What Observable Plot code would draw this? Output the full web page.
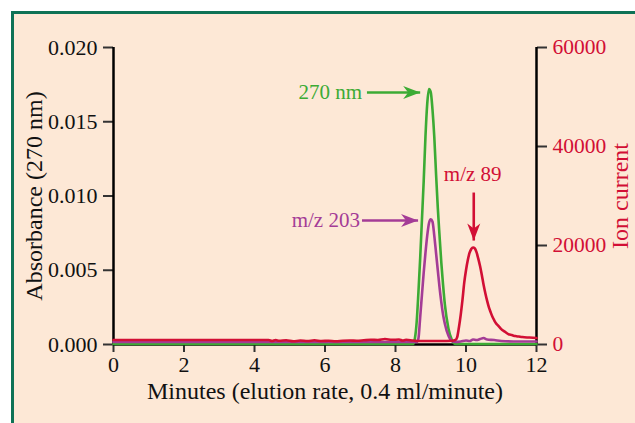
<!DOCTYPE html>
<html><head><meta charset="utf-8">
<script src="https://cdn.jsdelivr.net/npm/d3@7"></script>
<script src="https://cdn.jsdelivr.net/npm/@observablehq/plot@0.6"></script>
<style>
html,body{margin:0;padding:0;background:#fff;width:635px;height:423px;overflow:hidden}
#frame{position:absolute;left:11px;top:11px;width:700px;height:500px;background:#fde8d6;border-left:3px solid #0e7256;border-top:3px solid #0e7256}
#chart{position:absolute;left:0;top:0}
</style></head><body><div id="frame"></div><div id="chart"></div>
<script>
// ---- data ----
const xTicks = [0, 2, 4, 6, 8, 10, 12];
const absTicks = [0, 0.005, 0.010, 0.015, 0.020];
const ionTicks = [0, 20000, 40000, 60000];

// Absorbance at 270 nm (left axis)
const absTime = [0, 2, 4, 6, 8, 8.5, 8.55, 8.6, 8.65, 8.7, 8.75, 8.8, 8.85, 8.9, 8.95, 9.0, 9.05, 9.1, 9.15, 9.2, 9.25, 9.3, 9.35, 9.4, 9.5, 9.6, 9.7, 10, 11, 12];
const absValue = [0.00003, 0.00003, 0.00003, 0.00003, 0.00003, 0.00003, 0.0004, 0.0015, 0.0035, 0.0058, 0.0084, 0.0110, 0.0140, 0.0162, 0.0172, 0.0170, 0.0158, 0.0140, 0.0115, 0.0092, 0.0073, 0.0055, 0.0040, 0.0027, 0.0011, 0.0003, 0.00003, 0.00003, 0.00003, 0.00003];

// Ion current m/z 203 (right axis)
const mz203Time = [0, 2, 4, 6, 8, 8.6, 8.65, 8.7, 8.75, 8.8, 8.85, 8.9, 8.95, 9.0, 9.05, 9.1, 9.15, 9.2, 9.25, 9.3, 9.35, 9.4, 9.5, 9.6, 9.7, 9.85, 10.0, 10.1, 10.2, 10.3, 10.4, 10.5, 10.6, 10.8, 11.0, 11.5, 12];
const mz203Value = [500, 500, 500, 500, 500, 500, 1200, 5500, 10000, 14500, 18500, 22000, 24500, 25300, 24800, 22000, 18500, 15000, 11500, 8500, 6000, 4200, 1800, 700, 500, 600, 800, 700, 1000, 900, 1100, 1300, 1000, 900, 700, 600, 600];

// Ion current m/z 89 (right axis)
const mz89Time = [0, 1, 2, 3, 4, 4.4, 4.5, 4.6, 4.7, 4.9, 5.1, 5.3, 5.5, 5.7, 5.9, 6.1, 6.3, 6.5, 6.7, 6.9, 7.1, 7.3, 7.5, 7.7, 7.9, 8.1, 8.2, 8.3, 8.5, 8.7, 9.0, 9.3, 9.6, 9.7, 9.75, 9.8, 9.85, 9.9, 9.95, 10.0, 10.05, 10.1, 10.15, 10.2, 10.25, 10.3, 10.35, 10.4, 10.45, 10.5, 10.55, 10.6, 10.65, 10.7, 10.75, 10.8, 10.85, 10.9, 10.95, 11.0, 11.1, 11.2, 11.3, 11.4, 11.5, 11.6, 11.8, 12];
const mz89Value = [900, 900, 900, 900, 900, 900, 700, 900, 750, 850, 650, 800, 700, 850, 700, 750, 650, 750, 800, 750, 850, 950, 900, 1100, 950, 1000, 800, 950, 800, 700, 700, 700, 750, 900, 1500, 3500, 6000, 9000, 12500, 15000, 17000, 18500, 19300, 19600, 19400, 18600, 17300, 15800, 14000, 12000, 10300, 8800, 7500, 6500, 5600, 4900, 4300, 3900, 3500, 3100, 2600, 2100, 1900, 1700, 1600, 1500, 1400, 1300];

// annotation / axis title texts
const labels = ["270 nm", "m/z 203", "m/z 89"];
const xTitle = "Minutes (elution rate, 0.4 ml/minute)";
const yTitle = "Absorbance (270 nm)";
const y2Title = "Ion current";

// ---- build ----
const GREEN = "#3cab34", PURPLE = "#a43c96", RED = "#d20f35";
const K = 0.02 / 60000; // ion current -> left-axis units
const green = absTime.map((t, i) => ({t, v: absValue[i]}));
const purple = mz203Time.map((t, i) => ({t, v: mz203Value[i] * K}));
const red = mz89Time.map((t, i) => ({t, v: mz89Value[i] * K}));

const arrowRight = {draw(c) { c.moveTo(0, 0); c.lineTo(-17, -6.5); c.lineTo(-12, 0); c.lineTo(-17, 6.5); c.closePath(); }};
const arrowDown = {draw(c) { c.moveTo(0, 0); c.lineTo(-6.5, -17); c.lineTo(0, -12); c.lineTo(6.5, -17); c.closePath(); }};

const sideAnnos = [
  {label: labels[0], tx: 7.05, ty: 0.01697, x1: 7.19, y1: 0.01697, x2: 8.70, y2: 0.01697, color: GREEN},
  {label: labels[1], tx: 6.99, ty: 25050 * K, x1: 7.05, y1: 25050 * K, x2: 8.64, y2: 25050 * K, color: PURPLE}
];
const downAnnos = [
  {label: labels[2], tx: 10.19, ty: 34300 * K, x1: 10.22, y1: 30700 * K, x2: 10.22, y2: 21000 * K, color: RED}
];
const annos = sideAnnos.concat(downAnnos);

const chart = Plot.plot({
  width: 635, height: 423,
  marginLeft: 113, marginRight: 99, marginTop: 47, marginBottom: 79,
  style: {fontFamily: "'Liberation Serif', 'Times New Roman', serif", fontSize: "21px", background: "transparent", overflow: "visible", color: "#111"},
  x: {domain: [0, 12]},
  y: {domain: [0, 0.02]},
  marks: [
    Plot.axisX({ticks: xTicks, tickSize: 8, tickPadding: 4, stroke: "#333", strokeWidth: 2, label: null, fontSize: 22, tickFormat: d => String(d)}),
    Plot.axisY({anchor: "left", ticks: absTicks, tickSize: 10, tickPadding: 6, stroke: "#333", strokeWidth: 2, label: null, fontSize: 22, tickFormat: d3.format(".3f")}),
    Plot.axisY({anchor: "right", ticks: ionTicks.map(v => v * K), tickSize: 10, tickPadding: 6, stroke: "#333", strokeWidth: 2, fill: RED, label: null, fontSize: 21.5, tickFormat: d => String(Math.round(d / K))}),
    Plot.ruleY([0], {stroke: "#000", strokeWidth: 2.5}),
    Plot.ruleX([0, 12], {stroke: "#000", strokeWidth: 2.5}),
    Plot.line(green, {x: "t", y: "v", stroke: GREEN, strokeWidth: 2.6, curve: "monotone-x"}),
    Plot.line(purple, {x: "t", y: "v", stroke: PURPLE, strokeWidth: 2.6, curve: "monotone-x"}),
    Plot.line(red, {x: "t", y: "v", stroke: RED, strokeWidth: 2.6, curve: "monotone-x"}),
    Plot.link(annos, {x1: "x1", y1: "y1", x2: "x2", y2: "y2", stroke: "color", strokeWidth: 2.6}),
    Plot.dot(sideAnnos, {x: "x2", y: "y2", symbol: arrowRight, r: 6, fill: "color", stroke: "none"}),
    Plot.dot(downAnnos, {x: "x2", y: "y2", symbol: arrowDown, r: 6, fill: "color", stroke: "none"}),
    Plot.text(sideAnnos, {x: "tx", y: "ty", text: "label", fill: "color", textAnchor: "end", fontSize: 21}),
    Plot.text(downAnnos, {x: "tx", y: "ty", text: "label", fill: "color", textAnchor: "middle", fontSize: 21}),
    Plot.text([xTitle], {x: 6, y: 0, dy: 47, fontSize: 24, fill: "#111"}),
    Plot.text([yTitle], {x: -2.26, y: 0.01, rotate: -90, fontSize: 24, fill: "#111"}),
    Plot.text([y2Title], {x: 14.38, y: 0.01, rotate: -90, fontSize: 24, fill: RED})
  ]
});
document.getElementById("chart").appendChild(chart);
</script></body></html>
